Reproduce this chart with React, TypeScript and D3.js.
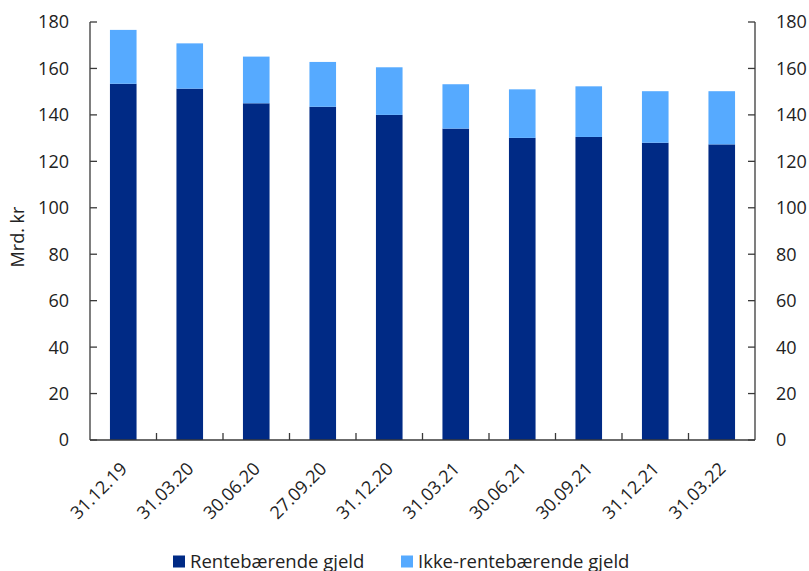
import React from "react";
import * as d3 from "d3";

const categories = ["31.12.19", "31.03.20", "30.06.20", "27.09.20", "31.12.20", "31.03.21", "30.06.21", "30.09.21", "31.12.21", "31.03.22"];
const renteberende = [153.4, 151.3, 145.0, 143.5, 140.0, 134.1, 130.1, 130.5, 128.0, 127.3];
const ikkeRenteberende = [23.2, 19.5, 20.1, 19.3, 20.5, 19.1, 20.9, 21.8, 22.2, 22.9];
const seriesNames = ["Rentebærende gjeld", "Ikke-rentebærende gjeld"];
const yTicks = [0, 20, 40, 60, 80, 100, 120, 140, 160, 180];

const W = 809;
const H = 571;
const M = { left: 90, right: 755, top: 22, bottom: 440 };
const colors = ["#002a85", "#56aaff"];
const font = "'Open Sans', 'Noto Sans', sans-serif";
const axisColor = "#3a3a3a";
const fs = 18;

export default function App() {
  const x = d3.scaleBand<string>().domain(categories).range([M.left, M.right]).paddingInner(0.6).paddingOuter(0.3);
  const y = d3.scaleLinear().domain([0, 180]).range([M.bottom, M.top]);
  const rows = categories.map((c, i) => ({ cat: c, a: renteberende[i], b: ikkeRenteberende[i] }));
  const stack = d3.stack<any>().keys(["a", "b"])(rows);
  const step = (M.right - M.left) / categories.length;
  const boundaries = d3.range(1, categories.length).map((i) => M.left + i * step);

  return (
    <svg width={W} height={H} style={{ position: "absolute", left: 0, top: 0 }} fontFamily={font}>
      <rect width={W} height={H} fill="#fff" />
      {stack.map((s, si) =>
        s.map((d, i) => (
          <rect
            key={si + "-" + i}
            x={x(categories[i])}
            width={x.bandwidth()}
            y={y(d[1])}
            height={y(d[0]) - y(d[1])}
            fill={colors[si]}
          />
        ))
      )}
      {/* axes */}
      <line x1={M.left} x2={M.left} y1={M.top} y2={M.bottom} stroke={axisColor} strokeWidth={1.3} />
      <line x1={M.right} x2={M.right} y1={M.top} y2={M.bottom} stroke={axisColor} strokeWidth={1.3} />
      <line x1={M.left} x2={M.right} y1={M.bottom} y2={M.bottom} stroke={axisColor} strokeWidth={1.3} />
      {yTicks.map((t) => (
        <g key={t}>
          <line x1={M.left} x2={M.left + 7} y1={y(t)} y2={y(t)} stroke={axisColor} strokeWidth={1.3} />
          <line x1={M.right - 7} x2={M.right} y1={y(t)} y2={y(t)} stroke={axisColor} strokeWidth={1.3} />
          <text x={69} y={y(t)} dy="0.36em" textAnchor="end" fontSize={fs} fill="#222">{t}</text>
          <text x={776} y={y(t)} dy="0.36em" textAnchor="start" fontSize={fs} fill="#222">{t}</text>
        </g>
      ))}
      {boundaries.map((b, i) => (
        <line key={i} x1={b} x2={b} y1={M.bottom - 7} y2={M.bottom} stroke={axisColor} strokeWidth={1.3} />
      ))}
      {categories.map((c) => {
        const cx = (x(c) as number) + x.bandwidth() / 2 + 5;
        return (
          <text key={c} transform={`translate(${cx},${M.bottom + 30}) rotate(-45)`} textAnchor="end" fontSize={fs} fill="#222">
            {c}
          </text>
        );
      })}
      <text transform={`translate(24,237) rotate(-90)`} textAnchor="middle" fontSize={fs} fill="#222">
        Mrd. kr
      </text>
      {/* legend */}
      <rect x={173} y={555.5} width={12} height={12} fill={colors[0]} />
      <text x={190} y={567.5} fontSize={18.5} fill="#222">{seriesNames[0]}</text>
      <rect x={401} y={555.5} width={12} height={12} fill={colors[1]} />
      <text x={418} y={567.5} fontSize={18.5} fill="#222">{seriesNames[1]}</text>
    </svg>
  );
}
